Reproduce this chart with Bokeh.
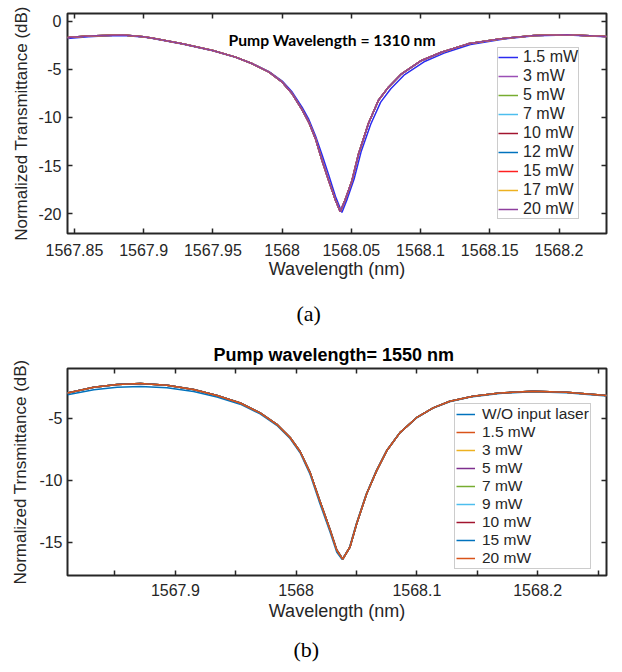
from bokeh.plotting import figure
from bokeh.models import Range1d, FixedTicker, LinearAxis, Legend, LegendItem, Label, Title
from bokeh.layouts import column
from bokeh.embed import file_html
from bokeh.resources import INLINE

# ---------------- data: (a) pump 1310 nm ----------------
a_wl = [1567.8450, 1567.8600, 1567.8708, 1567.8852, 1567.9000, 1567.9068, 1567.9280,
        1567.9500, 1567.9664, 1567.9786, 1567.9906, 1568.0001, 1568.0073, 1568.0145,
        1568.0193, 1568.0241, 1568.0289, 1568.0337, 1568.0385, 1568.0420, 1568.0455,
        1568.0504, 1568.0552, 1568.0624, 1568.0696, 1568.0768, 1568.0863, 1568.1007,
        1568.1151, 1568.1343, 1568.1582, 1568.1821, 1568.2061, 1568.2343]
a_main = [-1.66, -1.52, -1.46, -1.40, -1.60, -1.75, -2.33,
          -3.02, -3.71, -4.41, -5.28, -6.32, -7.53, -9.20,
          -10.5, -12.2, -14.5, -16.6, -18.6, -19.8, -18.6,
          -16.6, -13.8, -10.6, -8.2, -6.84, -5.45, -4.06,
          -3.20, -2.33, -1.80, -1.46, -1.39, -1.56]
a_wl_blue = [1567.8450, 1567.8600, 1567.8708, 1567.8852, 1567.9000, 1567.9068, 1567.9280,
             1567.9500, 1567.9664, 1567.9786, 1567.9906, 1568.0001, 1568.0073, 1568.0145,
             1568.0193, 1568.0241, 1568.0289, 1568.0337, 1568.0385, 1568.0432, 1568.0470,
             1568.0520, 1568.0570, 1568.0640, 1568.0712, 1568.0785, 1568.0880, 1568.1025,
             1568.1170, 1568.1360, 1568.1590, 1568.1825, 1568.2061, 1568.2343]
a_blue = [-1.78, -1.60, -1.52, -1.45, -1.62, -1.77, -2.36,
          -3.05, -3.72, -4.40, -5.22, -6.20, -7.35, -8.95,
          -10.2, -11.9, -13.9, -16.0, -18.2, -19.9, -18.5,
          -16.4, -13.6, -10.7, -8.4, -7.0, -5.6, -4.2,
          -3.3, -2.4, -1.84, -1.50, -1.42, -1.58]
a_labels = ["1.5 mW", "3 mW", "5 mW", "7 mW", "10 mW", "12 mW", "15 mW", "17 mW", "20 mW"]
a_colors = ["#2b2bf0", "#9b4fb5", "#77AC30", "#4DBEEE", "#A2142F", "#0072BD", "#FF2020", "#EDB120", "#8E3F9E"]
a_xticks = [1567.85, 1567.9, 1567.95, 1568.0, 1568.05, 1568.1, 1568.15, 1568.2]
a_xtick_labels = ["1567.85", "1567.9", "1567.95", "1568", "1568.05", "1568.1", "1568.15", "1568.2"]
a_yticks = [-20, -15, -10, -5, 0]
a_ytick_labels = ["-20", "-15", "-10", "-5", "0"]

# ---------------- data: (b) pump 1550 nm ----------------
b_wl = [1567.8107, 1567.8325, 1567.8518, 1567.8711, 1567.8931, 1567.9151, 1567.9345,
        1567.9537, 1567.9702, 1567.9840, 1567.9950, 1568.0033, 1568.0116, 1568.0190,
        1568.0281, 1568.0336, 1568.0386, 1568.0446, 1568.0502, 1568.0584, 1568.0667,
        1568.0750, 1568.0860, 1568.0997, 1568.1135, 1568.1273, 1568.1465, 1568.1686,
        1568.1961, 1568.2237, 1568.2570]
b_main = [-2.98, -2.52, -2.30, -2.22, -2.36, -2.70, -3.18,
          -3.78, -4.58, -5.50, -6.57, -7.70, -9.40, -11.5,
          -14.0, -15.64, -16.38, -15.4, -13.5, -11.1, -9.24,
          -7.64, -6.17, -4.97, -4.18, -3.64, -3.24, -2.98,
          -2.84, -2.92, -3.18]
b_wl_blue = [1567.8107, 1567.8325, 1567.8518, 1567.8711, 1567.8931, 1567.9151, 1567.9345,
             1567.9537, 1567.9702, 1567.9840, 1567.9950, 1568.0033, 1568.0116, 1568.0190,
             1568.0281, 1568.0336, 1568.0380, 1568.0440, 1568.0496, 1568.0578, 1568.0661,
             1568.0745, 1568.0855, 1568.0992, 1568.1130, 1568.1270, 1568.1462, 1568.1683,
             1568.1961, 1568.2237, 1568.2570]
b_blue = [-3.12, -2.72, -2.52, -2.45, -2.55, -2.85, -3.30,
          -3.88, -4.66, -5.58, -6.65, -7.80, -9.55, -11.7,
          -14.2, -15.8, -16.40, -15.5, -13.6, -11.2, -9.3,
          -7.7, -6.22, -5.02, -4.22, -3.68, -3.27, -3.01,
          -2.87, -2.95, -3.22]
b_labels = ["W/O input laser", "1.5 mW", "3 mW", "5 mW", "7 mW", "9 mW", "10 mW", "15 mW", "20 mW"]
b_colors = ["#0072BD", "#D95319", "#EDB120", "#7E2F8E", "#77AC30", "#4DBEEE", "#A2142F", "#0072BD", "#D95319"]
b_xticks = [1567.9, 1568.0, 1568.1, 1568.2]
b_xtick_labels = ["1567.9", "1568", "1568.1", "1568.2"]
b_xminor = [1567.85, 1567.95, 1568.05, 1568.15, 1568.25]
b_yticks = [-15, -10, -5]
b_ytick_labels = ["-15", "-10", "-5"]

INK = "#262626"
SANS = "Liberation Sans"
SERIF = "Liberation Serif"


def style_axis(ax, ticks, labels, minor=None, font="16px", standoff=6, show=True):
    ax.ticker = FixedTicker(ticks=ticks, minor_ticks=minor or [])
    ax.axis_line_color = None
    ax.major_tick_in = 5
    ax.major_tick_out = 0
    ax.minor_tick_in = 5 if minor else 0
    ax.minor_tick_out = 0
    ax.major_tick_line_color = INK
    ax.major_tick_line_width = 1.5
    ax.minor_tick_line_color = INK
    ax.minor_tick_line_width = 1.5
    if show:
        ax.major_label_overrides = dict(zip(ticks, labels))
        ax.major_label_text_font = SANS
        ax.major_label_text_font_size = font
        ax.major_label_text_color = INK
        ax.major_label_standoff = standoff
    else:
        ax.major_label_text_color = None
        ax.major_label_standoff = 0
        ax.axis_label = None


def style_labels(p, xlabel, ylabel, xstand, ystand):
    p.xaxis[0].axis_label = xlabel
    p.yaxis[0].axis_label = ylabel
    for ax, size in ((p.xaxis[0], "18px"), (p.yaxis[0], "17px")):
        ax.axis_label_text_font = SANS
        ax.axis_label_text_font_size = size
        ax.axis_label_text_font_style = "normal"
        ax.axis_label_text_color = INK
    p.xaxis[0].axis_label_standoff = xstand
    p.yaxis[0].axis_label_standoff = ystand


def make_fig(width, height, xr, yr, mb):
    p = figure(width=width, height=height, output_backend="svg", toolbar_location=None,
               x_range=Range1d(*xr), y_range=Range1d(*yr),
               min_border_left=mb[0], min_border_right=mb[1],
               min_border_top=mb[2], min_border_bottom=mb[3])
    p.xgrid.visible = False
    p.ygrid.visible = False
    p.outline_line_color = INK
    p.outline_line_width = 2
    p.background_fill_color = "white"
    p.border_fill_color = "white"
    return p


# ================= figure (a) =================
pa = make_fig(620, 285, (1567.845, 1568.2343), (-22.08, 0.83), (64, 14, 13, 52))
style_axis(pa.xaxis[0], a_xticks, a_xtick_labels, standoff=10)
style_axis(pa.yaxis[0], a_yticks, a_ytick_labels, standoff=6)
style_labels(pa, "Wavelength (nm)", "Normalized Transmittance (dB)", 0, 4)
ta = LinearAxis()
style_axis(ta, a_xticks, a_xtick_labels, show=False)
pa.add_layout(ta, "above")
ra = LinearAxis()
style_axis(ra, a_yticks, a_ytick_labels, show=False)
pa.add_layout(ra, "right")

a_items = []
for i, (lab, col) in enumerate(zip(a_labels, a_colors)):
    if i == 0:
        r = pa.line(a_wl_blue, a_blue, line_color=col, line_width=1.5)
    else:
        r = pa.line(a_wl, a_main, line_color=col, line_width=1.5)
    a_items.append(LegendItem(label=lab, renderers=[r]))
leg_a = Legend(items=a_items, location=(430, 14), label_text_font=SANS, label_text_font_size="16px",
               label_text_color=INK, glyph_width=20, glyph_height=18, label_height=18,
               label_standoff=5, spacing=1, padding=0, margin=0,
               border_line_color="#9a9a9a", border_line_width=1, background_fill_color="white")
pa.add_layout(leg_a)
pa.add_layout(Label(x=1568.0361, y=-1.98, text="Pump Wavelength = 1310 nm", text_font="Lato",
                    text_font_style="bold", text_font_size="15.7px", text_align="center",
                    text_baseline="middle", text_color="black"))

# ================= figure (b) =================
pb = make_fig(620, 387, (1567.8107, 1568.257), (-17.7, -1.0), (67, 13, 82, 96))
style_axis(pb.xaxis[0], b_xticks, b_xtick_labels, minor=b_xminor, standoff=8)
style_axis(pb.yaxis[0], b_yticks, b_ytick_labels, standoff=5)
style_labels(pb, "Wavelength (nm)", "Normalized Trnsmittance (dB)", 2, 6)
tb = LinearAxis()
style_axis(tb, b_xticks, b_xtick_labels, minor=b_xminor, show=False)
pb.add_layout(tb, "above")
rb = LinearAxis()
style_axis(rb, b_yticks, b_ytick_labels, show=False)
pb.add_layout(rb, "right")

# plot title (closest to the frame), then caption (a) of the upper panel above it
pb.add_layout(Title(text="Pump wavelength= 1550 nm", align="left", offset=146, text_font=SANS,
                    text_font_size="18px", text_font_style="bold", text_color="black",
                    standoff=8), "above")
pb.add_layout(Title(text="(a)", align="left", offset=229, text_font=SERIF, text_font_size="22px",
                    text_font_style="normal", text_color="black", standoff=26), "above")

b_items = []
for i, (lab, col) in enumerate(zip(b_labels, b_colors)):
    if i == 0:
        r = pb.line(b_wl_blue, b_blue, line_color=col, line_width=1.5)
    else:
        r = pb.line(b_wl, b_main, line_color=col, line_width=1.5)
    b_items.append(LegendItem(label=lab, renderers=[r]))
leg_b = Legend(items=b_items, location=(387, 6), label_text_font=SANS, label_text_font_size="15.5px",
               label_text_color=INK, glyph_width=19, glyph_height=18, label_height=18,
               label_standoff=7, spacing=0, padding=1, margin=0,
               border_line_color="#9a9a9a", border_line_width=1, background_fill_color="white")
pb.add_layout(leg_b)
pb.add_layout(Title(text="(b)", align="left", offset=226, text_font=SERIF, text_font_size="22px",
                    text_font_style="normal", text_color="black", standoff=22), "below")

layout = column(pa, pb, spacing=0)
open("out.html", "w").write(file_html(layout, INLINE))
